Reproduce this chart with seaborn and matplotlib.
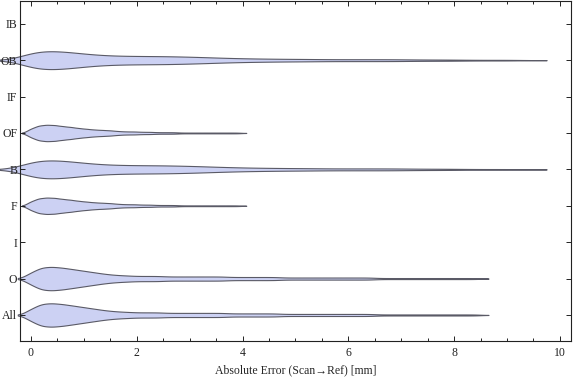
import numpy as np
import pandas as pd
import matplotlib.pyplot as plt
from matplotlib.ticker import MultipleLocator
import seaborn as sns

# category order, top to bottom
categories = ["IB", "OB", "IF", "OF", "B", "F", "I", "O", "All"]

# absolute error (mm) grid and how many samples sit at each value,
# read off the violin outlines
b_values = [0.0, 0.25, 0.5, 0.75, 1.0, 1.25, 1.5, 1.75, 2.0, 2.25, 2.5, 2.75,
            3.0, 3.25, 3.5, 3.75, 4.0, 4.25, 4.5, 4.75, 5.0, 5.25, 5.5, 5.75,
            6.0, 6.25, 6.5, 6.75, 7.0, 7.25, 7.5, 7.75, 8.0, 8.25, 8.5, 8.75,
            9.0, 9.15]
b_counts = [34, 30, 30, 26, 20, 17, 14, 14, 13, 13, 13, 12,
            11, 10, 8, 7, 6, 5, 5, 4, 4, 4, 3, 3,
            3, 3, 3, 3, 3, 2, 2, 2, 2, 1, 1, 1,
            1, 1]

f_values = [0.0, 0.15, 0.3, 0.45, 0.6, 0.75, 0.9, 1.05, 1.2, 1.35, 1.5, 1.65,
            1.8, 1.95, 2.1, 2.25, 2.4, 2.55, 2.7, 2.85, 3.0, 3.15, 3.3, 3.45,
            3.6, 3.75, 3.9]
f_counts = [12, 20, 22, 21, 18, 16, 13, 11, 9, 8, 7, 5,
            4, 4, 3, 3, 2, 2, 2, 1, 1, 1, 1, 1,
            1, 1, 1]

o_values = [0.0, 0.2, 0.4, 0.6, 0.8, 1.0, 1.2, 1.4, 1.6, 1.8, 2.0, 2.2,
            2.4, 2.6, 2.8, 3.0, 3.2, 3.4, 3.6, 3.8, 4.0, 4.2, 4.4, 4.6,
            4.8, 5.0, 5.2, 5.4, 5.6, 5.8, 6.0, 6.2, 6.4, 6.6, 6.8, 7.0,
            7.2, 7.4, 7.6, 7.8, 8.0, 8.2, 8.4]
o_counts = [12, 22, 23, 21, 18, 15, 12, 9, 7, 6, 5, 5,
            5, 4, 4, 4, 4, 4, 4, 3, 3, 3, 3, 3,
            2, 2, 2, 2, 2, 2, 2, 2, 2, 1, 1, 1,
            1, 1, 1, 1, 1, 1, 1]

groups = {
    "OB": (b_values, b_counts),
    "OF": (f_values, f_counts),
    "B": (b_values, b_counts),
    "F": (f_values, f_counts),
    "O": (o_values, o_counts),
    "All": (o_values, o_counts),
}

# kernel bandwidth (mm) and violin width per category
BANDWIDTH = {"OB": 0.3, "B": 0.3, "OF": 0.085, "F": 0.085, "O": 0.125, "All": 0.125}
WIDTH = {"OB": 0.49, "B": 0.49, "OF": 0.45, "F": 0.45, "O": 0.64, "All": 0.64}

FILL = "#ccd1f3"
EDGE = "#5a5a66"

sns.set_style("ticks")
plt.rcParams["font.family"] = ["Liberation Serif", "DejaVu Serif"]
plt.rcParams["font.size"] = 8.5

fig = plt.figure(figsize=(5.76, 3.81), dpi=100)
ax = fig.add_axes([0.0347, 0.105, 0.9566, 0.893])

for cat, (vals, cnts) in groups.items():
    err = np.repeat(vals, cnts)
    df = pd.DataFrame({"err": err, "cat": cat})
    sns.violinplot(data=df, x="err", y="cat", order=categories, orient="h",
                   bw_method=BANDWIDTH[cat] / err.std(ddof=1), cut=2, gridsize=400,
                   density_norm="width", width=WIDTH[cat], inner=None,
                   color=FILL, linecolor=EDGE, linewidth=0.8, saturation=1, ax=ax)

# violins spill past the left frame, labels stay on top of them
for coll in ax.collections:
    coll.set_clip_on(False)
    coll.set_zorder(1)
ax.set_axisbelow(False)

ax.set_xlim(-0.208, 10.21)
ax.set_ylim(8.715, -0.632)
ax.set_yticks(range(len(categories)))
ax.set_yticklabels(categories)
ax.set_ylabel("")
ax.set_xlabel("Absolute Error (Scan\u2192Ref) [mm]", fontsize=8.5, labelpad=4)

ax.xaxis.set_major_locator(MultipleLocator(2))
ax.xaxis.set_minor_locator(MultipleLocator(0.5))
ax.tick_params(axis="both", which="both", direction="in", top=True, right=True,
               color="#222222", labelcolor="#222222", width=0.7)
ax.tick_params(axis="both", which="major", length=3.5, labelsize=8.5)
ax.tick_params(axis="x", which="major", pad=4)
ax.tick_params(axis="y", which="major", pad=2)
ax.tick_params(axis="x", which="minor", length=2.2)
ax.tick_params(axis="y", which="minor", left=False, right=False)

for side in ["left", "right", "top", "bottom"]:
    ax.spines[side].set_visible(True)
    ax.spines[side].set_color("#222222")
    ax.spines[side].set_linewidth(0.8)

fig.savefig("out.png", dpi=100)
plt.close(fig)
